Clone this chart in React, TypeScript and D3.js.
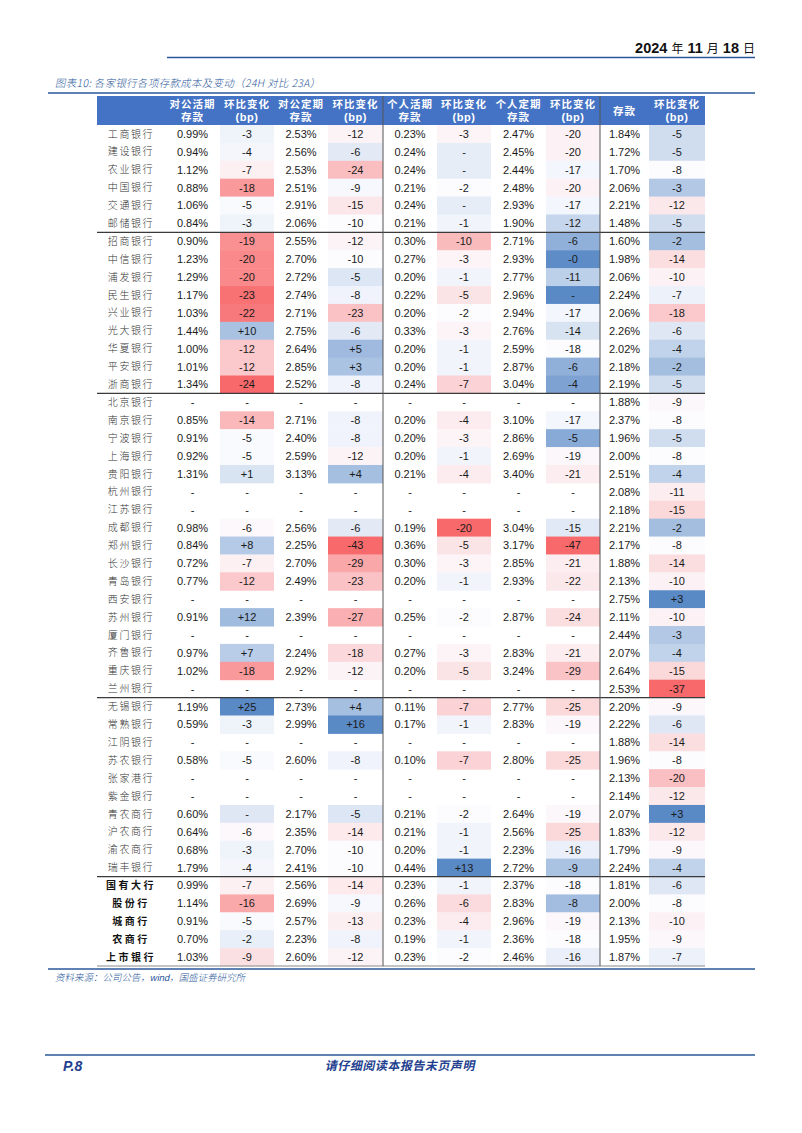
import React from "react";
import * as d3 from "d3";

// bank names, grouped: big six / joint-stock / city / rural / aggregates
const banks = [
  "工商银行", "建设银行", "农业银行", "中国银行", "交通银行", "邮储银行",
  "招商银行", "中信银行", "浦发银行", "民生银行", "兴业银行", "光大银行", "华夏银行", "平安银行", "浙商银行",
  "北京银行", "南京银行", "宁波银行", "上海银行", "贵阳银行", "杭州银行", "江苏银行", "成都银行", "郑州银行",
  "长沙银行", "青岛银行", "西安银行", "苏州银行", "厦门银行", "齐鲁银行", "重庆银行", "兰州银行",
  "无锡银行", "常熟银行", "江阴银行", "苏农银行", "张家港行", "紫金银行", "青农商行", "沪农商行", "渝农商行", "瑞丰银行",
  "国有大行", "股份行", "城商行", "农商行", "上市银行",
];
const summaryRows = ["国有大行", "股份行", "城商行", "农商行", "上市银行"];
// a line is drawn under these rows
const groupEnds = ["邮储银行", "浙商银行", "兰州银行", "瑞丰银行"];

const _ = null;
// cost (%)
const corpDemand = [0.99, 0.94, 1.12, 0.88, 1.06, 0.84, 0.90, 1.23, 1.29, 1.17, 1.03, 1.44, 1.00, 1.01, 1.34, _, 0.85, 0.91, 0.92, 1.31, _, _, 0.98, 0.84, 0.72, 0.77, _, 0.91, _, 0.97, 1.02, _, 1.19, 0.59, _, 0.58, _, _, 0.60, 0.64, 0.68, 1.79, 0.99, 1.14, 0.91, 0.70, 1.03];
const corpTime = [2.53, 2.56, 2.53, 2.51, 2.91, 2.06, 2.55, 2.70, 2.72, 2.74, 2.71, 2.75, 2.64, 2.85, 2.52, _, 2.71, 2.40, 2.59, 3.13, _, _, 2.56, 2.25, 2.70, 2.49, _, 2.39, _, 2.24, 2.92, _, 2.73, 2.99, _, 2.60, _, _, 2.17, 2.35, 2.70, 2.41, 2.56, 2.69, 2.57, 2.23, 2.60];
const retailDemand = [0.23, 0.24, 0.24, 0.21, 0.24, 0.21, 0.30, 0.27, 0.20, 0.22, 0.20, 0.33, 0.20, 0.20, 0.24, _, 0.20, 0.20, 0.20, 0.21, _, _, 0.19, 0.36, 0.30, 0.20, _, 0.25, _, 0.27, 0.20, _, 0.11, 0.17, _, 0.10, _, _, 0.21, 0.21, 0.20, 0.44, 0.23, 0.26, 0.23, 0.19, 0.23];
const retailTime = [2.47, 2.45, 2.44, 2.48, 2.93, 1.90, 2.71, 2.93, 2.77, 2.96, 2.94, 2.76, 2.59, 2.87, 3.04, _, 3.10, 2.86, 2.69, 3.40, _, _, 3.04, 3.17, 2.85, 2.93, _, 2.87, _, 2.83, 3.24, _, 2.77, 2.83, _, 2.80, _, _, 2.64, 2.56, 2.23, 2.72, 2.37, 2.83, 2.96, 2.36, 2.46];
const deposit = [1.84, 1.72, 1.70, 2.06, 2.21, 1.48, 1.60, 1.98, 2.06, 2.24, 2.06, 2.26, 2.02, 2.18, 2.19, 1.88, 2.37, 1.96, 2.00, 2.51, 2.08, 2.18, 2.21, 2.17, 1.88, 2.13, 2.75, 2.11, 2.44, 2.07, 2.64, 2.53, 2.20, 2.22, 1.88, 1.96, 2.13, 2.14, 2.07, 1.83, 1.79, 2.24, 1.81, 2.00, 2.13, 1.95, 1.87];
// change (bp), 0 shows as "-"
const corpDemandChg = [-3, -4, -7, -18, -5, -3, -19, -20, -20, -23, -22, 10, -12, -12, -24, _, -14, -5, -5, 1, _, _, -6, 8, -7, -12, _, 12, _, 7, -18, _, 25, -3, _, -5, _, _, 0, -6, -3, -4, -7, -16, -5, -2, -9];
const corpTimeChg = [-12, -6, -24, -9, -15, -10, -12, -10, -5, -8, -23, -6, 5, 3, -8, _, -8, -8, -12, 4, _, _, -6, -43, -29, -23, _, -27, _, -18, -12, _, 4, 16, _, -8, _, _, -5, -14, -10, -10, -14, -9, -13, -8, -12];
const retailDemandChg = [-3, 0, 0, -2, 0, -1, -10, -3, -1, -5, -2, -3, -1, -1, -7, _, -4, -3, -1, -4, _, _, -20, -5, -3, -1, _, -2, _, -3, -5, _, -7, -1, _, -7, _, _, -2, -1, -1, 13, -1, -6, -4, -1, -2];
const retailTimeChg = [-20, -20, -17, -20, -17, -12, -6, -0.3, -11, 0, -17, -14, -18, -6, -4, _, -17, -5, -19, -21, _, _, -15, -47, -21, -22, _, -24, _, -21, -29, _, -25, -19, _, -25, _, _, -19, -25, -16, -9, -18, -8, -19, -18, -16];
const depositChg = [-5, -5, -8, -3, -12, -5, -2, -14, -10, -7, -18, -6, -4, -2, -5, -9, -8, -5, -8, -4, -11, -15, -2, -8, -14, -10, 3, -10, -3, -4, -15, -37, -9, -6, -14, -8, -20, -12, 3, -12, -9, -4, -6, -8, -10, -9, -7];

const headers = [
  ["对公活期", "存款"], ["环比变化", "(bp)"], ["对公定期", "存款"], ["环比变化", "(bp)"],
  ["个人活期", "存款"], ["环比变化", "(bp)"], ["个人定期", "存款"], ["环比变化", "(bp)"],
  ["存款"], ["环比变化", "(bp)"],
];
const columns = [
  { values: corpDemand, chg: false }, { values: corpDemandChg, chg: true },
  { values: corpTime, chg: false }, { values: corpTimeChg, chg: true },
  { values: retailDemand, chg: false }, { values: retailDemandChg, chg: true },
  { values: retailTime, chg: false }, { values: retailTimeChg, chg: true },
  { values: deposit, chg: false }, { values: depositChg, chg: true },
];

// layout
const W = 802, H = 1133;
const edges = [97, 165, 220, 274, 328, 383, 437, 491, 546, 600, 649, 705];
const headTop = 96, headBottom = 125, tableBottom = 966;
const BLUE = "#2B579A";
const NUM = "'Liberation Sans', Arial, sans-serif";
const CJK = "'Noto Sans CJK SC', sans-serif";

function fmtPct(v) {
  return v == null ? "-" : v.toFixed(2) + "%";
}
function fmtBp(v) {
  if (v == null || v === 0) return "-";
  const r = Math.round(v);
  if (r === 0) return v < 0 ? "-0" : "+0";
  return r > 0 ? "+" + r : String(r);
}

// excel-like 3 colour scale: min red, median white, max blue
function colorScale(values) {
  const vals = values.filter((v) => v != null).sort(d3.ascending);
  return d3
    .scaleLinear()
    .domain([d3.min(vals), d3.quantile(vals, 0.5), d3.max(vals)])
    .range(["#F8696B", "#FCFCFF", "#5A8AC6"]);
}

// CJK fonts have no italic here, so slant by hand
const slant = (x, y) => `translate(${x},${y}) skewX(-12)`;

export default function App() {
  const y = d3.scaleBand().domain(banks).range([headBottom, tableBottom]);
  const bw = y.bandwidth();
  const scales = columns.map((c) => (c.chg ? colorScale(c.values) : null));

  return (
    <div style={{ position: "absolute", left: 0, top: 0 }}>
      <svg width={W} height={H} style={{ display: "block", background: "#fff" }}>
        {/* page header */}
        <text x={755} y={53} textAnchor="end" fontFamily="'Liberation Sans Narrow', 'Liberation Sans', sans-serif" fontWeight="bold" fontSize={14.5} fill="#111">
          2024 <tspan fontFamily={CJK} fontWeight="normal" fontSize={12}>年</tspan> 11 <tspan fontFamily={CJK} fontWeight="normal" fontSize={12}>月</tspan> 18 <tspan fontFamily={CJK} fontWeight="normal" fontSize={12}>日</tspan>
        </text>
        <line x1={167} x2={755} y1={57.5} y2={57.5} stroke={BLUE} strokeWidth={1.6} />

        <text transform={slant(55, 87)} fontFamily={CJK} fontSize={10.5} fontWeight={300} letterSpacing={0.3} fill={BLUE}>
          图表10: 各家银行各项存款成本及变动（24H 对比 23A）
        </text>
        <line x1={48} x2={755} y1={93} y2={93} stroke={BLUE} strokeWidth={1.6} />

        {/* table header */}
        <rect x={edges[0]} y={headTop} width={edges[edges.length - 1] - edges[0]} height={headBottom - headTop} fill="#4472C4" />
        {headers.map((h, i) => {
          const cx = (edges[i + 1] + edges[i + 2]) / 2;
          const lines = h.length === 1 ? [headTop + 19] : [headTop + 12, headTop + 25];
          return h.map((t, j) => (
            <text key={i + "-" + j} x={cx} y={lines[j]} textAnchor="middle" fontFamily={t.startsWith("(") ? NUM : CJK}
              fontWeight="bold" fontSize={t.startsWith("(") ? 11 : 10.5} letterSpacing={t.startsWith("(") ? 0.5 : 1} fill="#fff">
              {t}
            </text>
          ));
        })}

        {/* cells */}
        {banks.map((b, r) => (
          <g key={b}>
            {columns.map((c, k) => {
              const v = c.values[r];
              const x0 = edges[k + 1], x1 = edges[k + 2];
              const sc = scales[k];
              return (
                <g key={k}>
                  {sc && v != null && (
                    <rect x={x0} y={y(b)} width={x1 - x0} height={bw + 0.5} fill={sc(v)} />
                  )}
                  <text x={(x0 + x1) / 2} y={y(b) + bw / 2} dy="0.36em" textAnchor="middle" fontFamily={NUM} fontSize={11} fill="#1a1a1a">
                    {c.chg ? fmtBp(v) : fmtPct(v)}
                  </text>
                </g>
              );
            })}
            <text x={(edges[0] + edges[1]) / 2} y={y(b) + bw / 2} dy="0.36em" textAnchor="middle" fontFamily={CJK}
              fontSize={10} letterSpacing={summaryRows.includes(b) ? 2.5 : 1.6}
              fontWeight={summaryRows.includes(b) ? "bold" : 300} fill={summaryRows.includes(b) ? "#111" : "#333"}>
              {b}
            </text>
          </g>
        ))}

        {/* group separators */}
        {groupEnds.map((b) => (
          <line key={b} x1={edges[0]} x2={edges[edges.length - 1]} y1={y(b) + bw} y2={y(b) + bw} stroke="#3a3a3a" strokeWidth={1.2} />
        ))}
        <line x1={edges[0]} x2={edges[edges.length - 1]} y1={tableBottom} y2={tableBottom} stroke="#8a8a8a" strokeWidth={1.2} />
        {[edges[5], edges[9]].map((x) => (
          <line key={x} x1={x} x2={x} y1={headTop} y2={tableBottom} stroke="#555" strokeWidth={1} />
        ))}

        {/* source */}
        <line x1={48} x2={755} y1={969} y2={969} stroke={BLUE} strokeWidth={1.6} />
        <text transform={slant(55, 981)} fontFamily={CJK} fontSize={9.5} fontWeight={300} fill={BLUE}>
          资料来源：公司公告，<tspan fontFamily={NUM}>wind</tspan>，国盛证券研究所
        </text>

        {/* page footer */}
        <line x1={45} x2={755} y1={1055} y2={1055} stroke={BLUE} strokeWidth={1.6} />
        <text x={63} y={1071} fontFamily={NUM} fontStyle="italic" fontWeight="bold" fontSize={14} fill="#1F3F8F">
          P.8
        </text>
        <text transform={slant(400, 1070)} textAnchor="middle" fontFamily={CJK} fontWeight="bold" fontSize={12} letterSpacing={0.5} fill="#1F3F8F">
          请仔细阅读本报告末页声明
        </text>
      </svg>
    </div>
  );
}
